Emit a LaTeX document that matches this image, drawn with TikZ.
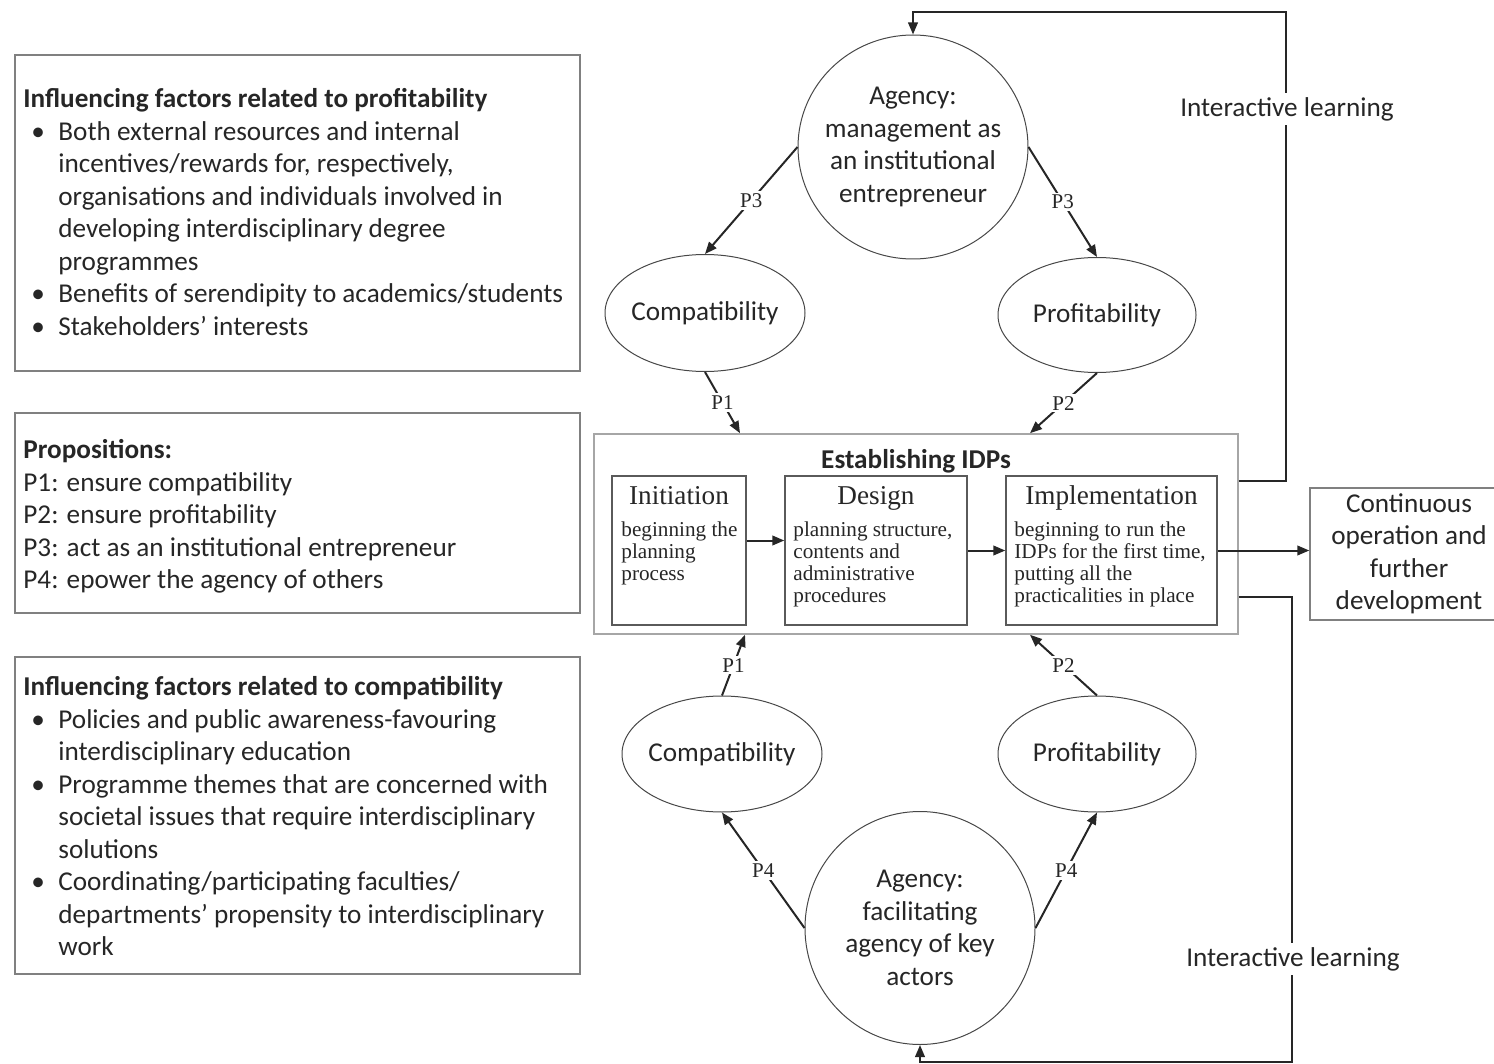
\documentclass[tikz,border=0pt]{standalone}
\usepackage{fontspec}
\setmainfont{Carlito}
\newfontfamily\tms{Liberation Serif}
\usetikzlibrary{arrows.meta,shapes.geometric,calc}

\definecolor{ink}{HTML}{262626}
\definecolor{frame}{HTML}{808080}
\definecolor{lightframe}{HTML}{A6A6A6}
\definecolor{stageframe}{HTML}{5A5A5A}

\tikzset{
  txt/.style={font=\fontsize{13.6}{16.25}\selectfont, text=ink},
  infobox/.style={draw=frame, line width=0.7pt, minimum width=282.5pt, inner sep=0pt},
  oval/.style={ellipse, draw=ink!85, line width=0.5pt, inner sep=0pt},
  ovaltext/.style={txt, align=center, inner sep=0pt},
  stagebox/.style={draw=stageframe, line width=0.7pt, minimum width=#1, minimum height=74.5pt, inner sep=0pt},
  stagehead/.style={font=\tms\fontsize{13.6}{16}\selectfont, text=ink, inner sep=0pt, anchor=base},
  stagebody/.style={font=\tms\fontsize{10.6}{11}\selectfont, text=ink, align=left, inner sep=0pt, anchor=north west},
  arr/.style={draw=ink, line width=1pt, -{Triangle[length=6pt,width=4.8pt]}},
  plabel/.style={font=\tms\fontsize{10.5}{12}\selectfont, text=ink, fill=white, inner sep=1.2pt},
  looplabel/.style={txt, fill=white, inner sep=2pt},
}

\newcommand{\bul}{\hspace*{4pt}\makebox[13.5pt][l]{\textbullet}}
\newcommand{\cont}{\hspace*{17.5pt}}

\begin{document}
\begin{tikzpicture}[x=0.5pt,y=-0.5pt]
\useasboundingbox (0,0) rectangle (1494,1064);

% ---------- left-hand information panels ----------
\node[infobox, minimum height=158pt] (box1) at (297.5,213) {};
\node[txt, align=left, anchor=north west, inner sep=0pt] (box1t) at (23,88) {%
\textbf{Influencing factors related to profitability}\\
\bul Both external resources and internal\\
\cont incentives/rewards for, respectively,\\
\cont organisations and individuals involved in\\
\cont developing interdisciplinary degree\\
\cont programmes\\
\bul Benefits of serendipity to academics/students\\
\bul Stakeholders’ interests};

\node[infobox, minimum height=100pt] (box2) at (297.5,513) {};
\node[txt, align=left, anchor=north west, inner sep=0pt] (box2t) at (23,439) {%
\textbf{Propositions:}\\
P1: ensure compatibility\\
P2: ensure profitability\\
P3: act as an institutional entrepreneur\\
P4: epower the agency of others};

\node[infobox, minimum height=158.5pt] (box3) at (297.5,815.5) {};
\node[txt, align=left, anchor=north west, inner sep=0pt] (box3t) at (23,676) {%
\textbf{Influencing factors related to compatibility}\\
\bul Policies and public awareness-favouring\\
\cont interdisciplinary education\\
\bul Programme themes that are concerned with\\
\cont societal issues that require interdisciplinary\\
\cont solutions\\
\bul Coordinating/participating faculties/\\
\cont departments’ propensity to interdisciplinary\\
\cont work};

% ---------- establishing IDPs ----------
\node[draw=lightframe, line width=0.8pt, minimum width=322pt, minimum height=100pt, inner sep=0pt] (est) at (916,534) {};
\node[txt, font=\fontsize{13.6}{16}\selectfont\bfseries, inner sep=0pt] (estt) at (916,461) {Establishing IDPs};

\node[stagebox=67pt] (init) at (679,550.5) {};
\node[stagehead] (initT) at (679,504) {Initiation};
\node[stagebody] (initB) at (621,521) {beginning the\\planning\\process};

\node[stagebox=91pt] (design) at (876,550.5) {};
\node[stagehead] (designT) at (876,504) {Design};
\node[stagebody] (designB) at (793,521) {planning structure,\\contents and\\administrative\\procedures};

\node[stagebox=105.5pt] (impl) at (1111.5,550.5) {};
\node[stagehead] (implT) at (1111.5,504) {Implementation};
\node[stagebody] (implB) at (1014,521) {beginning to run the\\IDPs for the first time,\\putting all the\\practicalities in place};

\node[draw=frame, line width=0.7pt, minimum width=99pt, minimum height=66pt, inner sep=0pt, align=center, txt] (cont) at (1409,554)
  {Continuous\\operation and\\further\\development};

% ---------- ovals ----------
\node[oval, minimum width=115pt, minimum height=112pt] (agtop) at (913,147) {};
\node[ovaltext] (agtopT) at (agtop.center) {Agency:\\management as\\an institutional\\entrepreneur};
\node[oval, minimum width=100pt, minimum height=58.5pt] (comptop) at (705,313) {};
\node[ovaltext] (comptopT) at (comptop.center) {Compatibility};
\node[oval, minimum width=99pt, minimum height=57.5pt] (proftop) at (1097,315) {};
\node[ovaltext] (proftopT) at (proftop.center) {Profitability};
\node[oval, minimum width=100pt, minimum height=58pt] (compbot) at (722,754) {};
\node[ovaltext] (compbotT) at (compbot.center) {Compatibility};
\node[oval, minimum width=99pt, minimum height=58pt] (profbot) at (1097,754) {};
\node[ovaltext] (profbotT) at (profbot.center) {Profitability};
\node[oval, minimum width=115pt, minimum height=116.5pt] (agbot) at (920,928) {};
\node[ovaltext] (agbotT) at (agbot.center) {Agency:\\facilitating\\agency of key\\actors};

% ---------- stage flow ----------
\draw[arr] ([yshift=5pt]init.east) -- ([yshift=5pt]design.west);
\draw[arr] (design.east) -- (impl.west);
\draw[arr] (impl.east) -- (impl.east -| cont.west);

% ---------- proposition links ----------
\draw[arr] (agtop.west) -- node[plabel] {P3} (comptop.north);
\draw[arr] (agtop.east) -- node[plabel] {P3} (proftop.north);
\draw[arr] (comptop.south) -- node[plabel] {P1} ([xshift=-88pt]est.north);
\draw[arr] (proftop.south) -- node[plabel] {P2} ([xshift=57pt]est.north);
\draw[arr] (compbot.north) -- node[plabel] {P1} ([xshift=-85.5pt]est.south);
\draw[arr] (profbot.north) -- node[plabel] {P2} ([xshift=57pt]est.south);
\draw[arr] (agbot.west) -- node[plabel] {P4} (compbot.south);
\draw[arr] (agbot.east) -- node[plabel] {P4} (profbot.south);

% ---------- interactive learning loops ----------
\coordinate (loopT) at (1286,12);
\coordinate (loopB) at (1292,1062);
\draw[arr] ([yshift=26.5pt]est.east) -| (loopT) -| (agtop.north);
\draw[arr] ([yshift=-31.5pt]est.east) -| (loopB) -| (agbot.south);
\node[looplabel] (ilT) at (1287,109) {Interactive learning};
\node[looplabel] (ilB) at (1293,959) {Interactive learning};
\end{tikzpicture}
\end{document}
